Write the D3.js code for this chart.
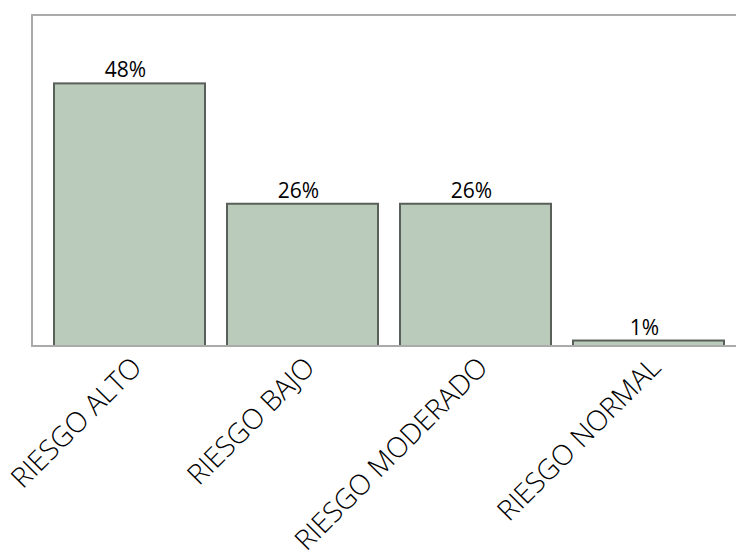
<!DOCTYPE html>
<html>
<head>
<meta charset="utf-8">
<script src="https://cdn.jsdelivr.net/npm/d3@7"></script>
<style>
  body { margin: 0; background: #fff; }
  text { font-family: 'Open Sans', 'Noto Sans', sans-serif; fill: #111; }
</style>
</head>
<body>
<div id="graf"></div>
<script>
const categorias = ['RIESGO ALTO', 'RIESGO BAJO', 'RIESGO MODERADO', 'RIESGO NORMAL']
const valores = [48, 26, 26, 1]
const etiquetas = ['48%', '26%', '26%', '1%']

const anchoTotal = 736
const altoTotal = 552

const margin = { top: 15, left: 32, bottom: 206 }
const ancho = 714
const alto = altoTotal - margin.top - margin.bottom

const svg = d3.select('#graf')
  .append('svg')
  .attr('width', anchoTotal)
  .attr('height', altoTotal)

const g = svg.append('g')
  .attr('transform', `translate(${margin.left}, ${margin.top})`)

const x = d3.scaleBand()
  .domain(categorias)
  .range([0, ancho])
  .paddingInner(22 / 173)
  .paddingOuter(22 / 173)

const y = d3.scaleLinear().domain([0, 60.5]).range([alto, 0])

// marco
g.append('path')
  .attr('d', `M${ancho},0 H0 V${alto} H${ancho}`)
  .attr('fill', 'none')
  .attr('stroke', '#aaaaaa')
  .attr('stroke-width', 2)

g.selectAll('rect.barra')
  .data(valores)
  .join('rect')
  .attr('class', 'barra')
  .attr('x', (d, i) => x(categorias[i]))
  .attr('y', (d) => y(d))
  .attr('width', x.bandwidth())
  .attr('height', (d) => y(0) - y(d))
  .attr('fill', '#bbcbbb')
  .attr('stroke', '#596059')
  .attr('stroke-width', 2)

// redibuja la linea base encima
g.append('line')
  .attr('x1', 0).attr('x2', ancho)
  .attr('y1', alto).attr('y2', alto)
  .attr('stroke', '#aaaaaa')
  .attr('stroke-width', 2)

g.selectAll('text.valor')
  .data(valores)
  .join('text')
  .attr('class', 'valor')
  .attr('x', (d, i) => x(categorias[i]) + x.bandwidth() / 2 - 4)
  .attr('y', (d) => y(d) - 6)
  .attr('text-anchor', 'middle')
  .style('font-size', '21px')
  .style('fill', '#000')
  .text((d, i) => etiquetas[i])

const eje = g.append('g')
  .attr('transform', `translate(0, ${alto})`)
  .call(d3.axisBottom(x).tickSize(0))

eje.select('.domain').remove()

eje.selectAll('text')
  .style('font-size', '28px')
  .style('font-weight', 300)
  .style('fill', '#000')
  .attr('text-anchor', 'end')
  .attr('transform', 'translate(14, 23) rotate(-45)')
  .attr('x', 0)
  .attr('y', 0)
  .attr('dy', 0)
</script>
</body>
</html>
